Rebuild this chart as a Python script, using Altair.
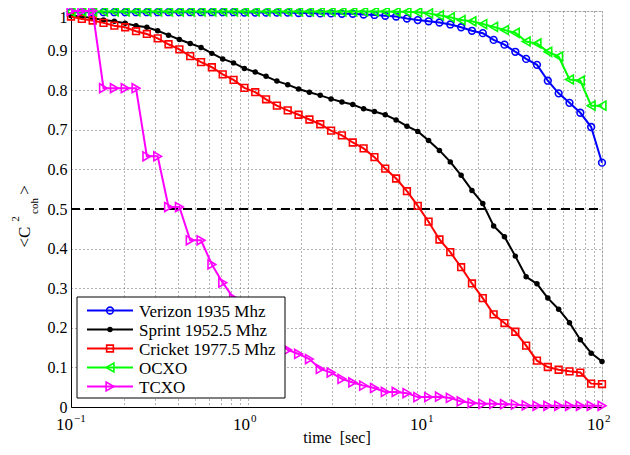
import altair as alt
import pandas as pd

# ---------------- data ----------------
time_s = [0.1, 0.11514, 0.13257, 0.15264, 0.17575, 0.20236, 0.23300, 0.26827, 0.30888, 0.35565,
          0.40949, 0.47149, 0.54287, 0.62506, 0.71969, 0.82864, 0.95410, 1.09854, 1.26486, 1.45635,
          1.67683, 1.93070, 2.22300, 2.55955, 2.94705, 3.39322, 3.90694, 4.49843, 5.17947, 5.96362,
          6.86649, 7.90604, 9.10298, 10.4811, 12.0679, 13.8950, 15.9986, 18.4207, 21.2095, 24.4205,
          28.1177, 32.3746, 37.2759, 42.9193, 49.4171, 56.8987, 65.5129, 75.4312, 86.8511, 100.0]

verizon = [0.997, 0.997, 0.997, 0.997, 0.997, 0.997, 0.997, 0.997, 0.997, 0.997,
           0.997, 0.997, 0.997, 0.997, 0.997, 0.997, 0.996, 0.996, 0.996, 0.996,
           0.996, 0.995, 0.995, 0.994, 0.994, 0.993, 0.993, 0.991, 0.990, 0.988,
           0.986, 0.981, 0.977, 0.974, 0.971, 0.966, 0.959, 0.950, 0.944, 0.927,
           0.915, 0.897, 0.879, 0.864, 0.824, 0.792, 0.768, 0.743, 0.707, 0.617]

sprint = [0.988, 0.986, 0.982, 0.977, 0.974, 0.969, 0.963, 0.959, 0.950, 0.939,
          0.928, 0.918, 0.908, 0.893, 0.879, 0.869, 0.855, 0.846, 0.835, 0.823,
          0.814, 0.803, 0.795, 0.787, 0.778, 0.770, 0.764, 0.753, 0.746, 0.738,
          0.725, 0.709, 0.696, 0.673, 0.648, 0.619, 0.585, 0.547, 0.514, 0.457,
          0.430, 0.381, 0.329, 0.311, 0.275, 0.247, 0.213, 0.170, 0.136, 0.115]

cricket = [0.986, 0.980, 0.976, 0.970, 0.963, 0.959, 0.949, 0.942, 0.931, 0.916,
           0.903, 0.886, 0.871, 0.858, 0.840, 0.826, 0.806, 0.795, 0.777, 0.761,
           0.749, 0.738, 0.726, 0.714, 0.698, 0.686, 0.668, 0.653, 0.631, 0.602,
           0.577, 0.545, 0.508, 0.468, 0.423, 0.391, 0.353, 0.312, 0.275, 0.234,
           0.212, 0.190, 0.155, 0.117, 0.101, 0.094, 0.090, 0.087, 0.059, 0.058]

ocxo = [0.999, 0.999, 0.999, 0.999, 0.999, 0.999, 0.999, 0.999, 0.999, 0.999,
        0.999, 0.999, 0.999, 0.999, 0.999, 0.999, 0.999, 0.999, 0.999, 0.999,
        0.999, 0.999, 0.999, 0.999, 0.999, 0.999, 0.999, 0.999, 0.999, 0.999,
        0.998, 0.998, 0.997, 0.994, 0.989, 0.984, 0.977, 0.974, 0.967, 0.960,
        0.952, 0.945, 0.923, 0.918, 0.897, 0.885, 0.827, 0.824, 0.761, 0.761]

tcxo = [1.000, 1.000, 1.000, 0.805, 0.805, 0.805, 0.805, 0.633, 0.633, 0.505,
        0.505, 0.421, 0.421, 0.360, 0.314, 0.275, 0.245, 0.210, 0.185, 0.165,
        0.144, 0.134, 0.121, 0.096, 0.087, 0.071, 0.062, 0.054, 0.048, 0.038,
        0.038, 0.035, 0.025, 0.025, 0.026, 0.023, 0.014, 0.010, 0.008, 0.008,
        0.007, 0.006, 0.004, 0.003, 0.003, 0.003, 0.003, 0.003, 0.003, 0.003]

series_names = ["Verizon 1935 Mhz", "Sprint 1952.5 Mhz", "Cricket 1977.5 Mhz", "OCXO", "TCXO"]
series_values = [verizon, sprint, cricket, ocxo, tcxo]

threshold = 0.5
decades = [0.1, 1, 10, 100]
decade_exp = ["\u22121", "0", "1", "2"]
x_grid_values = [0.1, 0.2, 0.3, 0.4, 0.5, 0.6, 0.7, 0.8, 0.9,
                 1, 2, 3, 4, 5, 6, 7, 8, 9,
                 10, 20, 30, 40, 50, 60, 70, 80, 90, 100]
y_tick_values = [0, 0.1, 0.2, 0.3, 0.4, 0.5, 0.6, 0.7, 0.8, 0.9, 1]

# ---------------- styles ----------------
colors = ["#0000FF", "#000000", "#FF0000", "#00FF00", "#FF00FF"]
shapes = ["circle", "circle", "square", "triangle-left", "triangle-right"]
filled = [False, True, False, False, False]
sizes = [45, 30, 45, 80, 80]

FONT = "Times New Roman, Liberation Serif, serif"
W, H = 531, 396

xscale = alt.Scale(type="log", domain=[0.1, 100], nice=False)
yscale = alt.Scale(domain=[0, 1], nice=False)

xaxis = alt.Axis(values=x_grid_values, labels=False, ticks=False, grid=True,
                 gridDash=[1, 3], gridColor="#666666", gridWidth=1,
                 domainColor="black", title="time\u00a0\u00a0[sec]", titleFont=FONT,
                 titleFontSize=16, titleFontWeight="normal", titleColor="black",
                 titlePadding=22)
yaxis = alt.Axis(values=y_tick_values, format="~g", ticks=False, grid=True,
                 gridDash=[1, 3], gridColor="#666666", gridWidth=1,
                 domainColor="black", labelFont=FONT, labelFontSize=16,
                 labelColor="black", labelPadding=4, title=None,
                 labelOffset={"condition": {"test": "datum.value == 1", "value": 6}, "value": 0})

X = lambda f: alt.X(f, type="quantitative", scale=xscale, axis=xaxis)
Y = lambda f: alt.Y(f, type="quantitative", scale=yscale, axis=yaxis)

layers = []

# dashed 0.5 reference line
thr_df = pd.DataFrame({"t0": [time_s[0]], "t1": [time_s[-1]], "v": [threshold]})
layers.append(
    alt.Chart(thr_df).mark_rule(color="black", strokeWidth=2, strokeDash=[9, 5])
    .encode(x=X("t0"), x2="t1", y=Y("v"))
)

# series
for name, vals, col, shp, fl, sz in zip(series_names, series_values, colors, shapes, filled, sizes):
    df = pd.DataFrame({"t": time_s, "v": vals, "series": name})
    base = alt.Chart(df)
    layers.append(base.mark_line(color=col, strokeWidth=2, clip=False).encode(x=X("t"), y=Y("v")))
    if fl:
        pts = base.mark_point(shape=shp, filled=True, color=col, size=sz, opacity=1)
    else:
        pts = base.mark_point(shape=shp, filled=False, color=col, size=sz, strokeWidth=1.6, opacity=1)
    layers.append(pts.encode(x=X("t"), y=Y("v")))

# custom decade tick labels 10^n
dec_df = pd.DataFrame({"t": decades, "base": ["10"] * 4, "exp": decade_exp})
layers.append(
    alt.Chart(dec_df).mark_text(font=FONT, fontSize=17, align="right", baseline="alphabetic", dx=2, color="black")
    .encode(x=X("t"), y=alt.value(H + 23), text="base:N")
)
layers.append(
    alt.Chart(dec_df).mark_text(font=FONT, fontSize=11, align="left", baseline="alphabetic", dx=3, color="black")
    .encode(x=X("t"), y=alt.value(H + 15), text="exp:N")
)

# y-axis title  <C^2_coh>
one = pd.DataFrame({"a": [0]})
def ytxt(s, x, y, fs):
    return alt.Chart(one).mark_text(font=FONT, fontSize=fs, angle=270, align="center",
                                    baseline="middle", color="black").encode(
        x=alt.value(x), y=alt.value(y), text=alt.value(s))
layers += [ytxt("<C", -46, 226, 17), ytxt("2", -55, 208, 11), ytxt("coh", -36, 195, 11), ytxt(">", -46, 179, 17)]

# legend box
layers.append(
    alt.Chart(one).mark_rect(fill="white", stroke="black", strokeWidth=1)
    .encode(x=alt.value(6), x2=alt.value(214), y=alt.value(286), y2=alt.value(387))
)
for i, (name, col, shp, fl, sz) in enumerate(zip(series_names, colors, shapes, filled, sizes)):
    ly = 299.5 + 19 * i
    layers.append(alt.Chart(one).mark_rule(color=col, strokeWidth=2)
                  .encode(x=alt.value(16), x2=alt.value(62), y=alt.value(ly)))
    layers.append(alt.Chart(one).mark_point(shape=shp, filled=fl, color=col, size=sz,
                                            strokeWidth=1.6, opacity=1)
                  .encode(x=alt.value(39), y=alt.value(ly)))
    layers.append(alt.Chart(one).mark_text(font=FONT, fontSize=17, align="left", baseline="middle", color="black")
                  .encode(x=alt.value(68), y=alt.value(ly + 1), text=alt.value(name)))

chart = alt.layer(*layers).properties(
    width=W, height=H,
    padding={"left": 63, "top": 3, "right": 20, "bottom": 40},
    autosize=alt.AutoSizeParams(type="none"),
).configure_view(stroke="black", strokeWidth=1).configure(background="white")

chart.save("out.html", embed_options={"renderer": "svg", "actions": False})
